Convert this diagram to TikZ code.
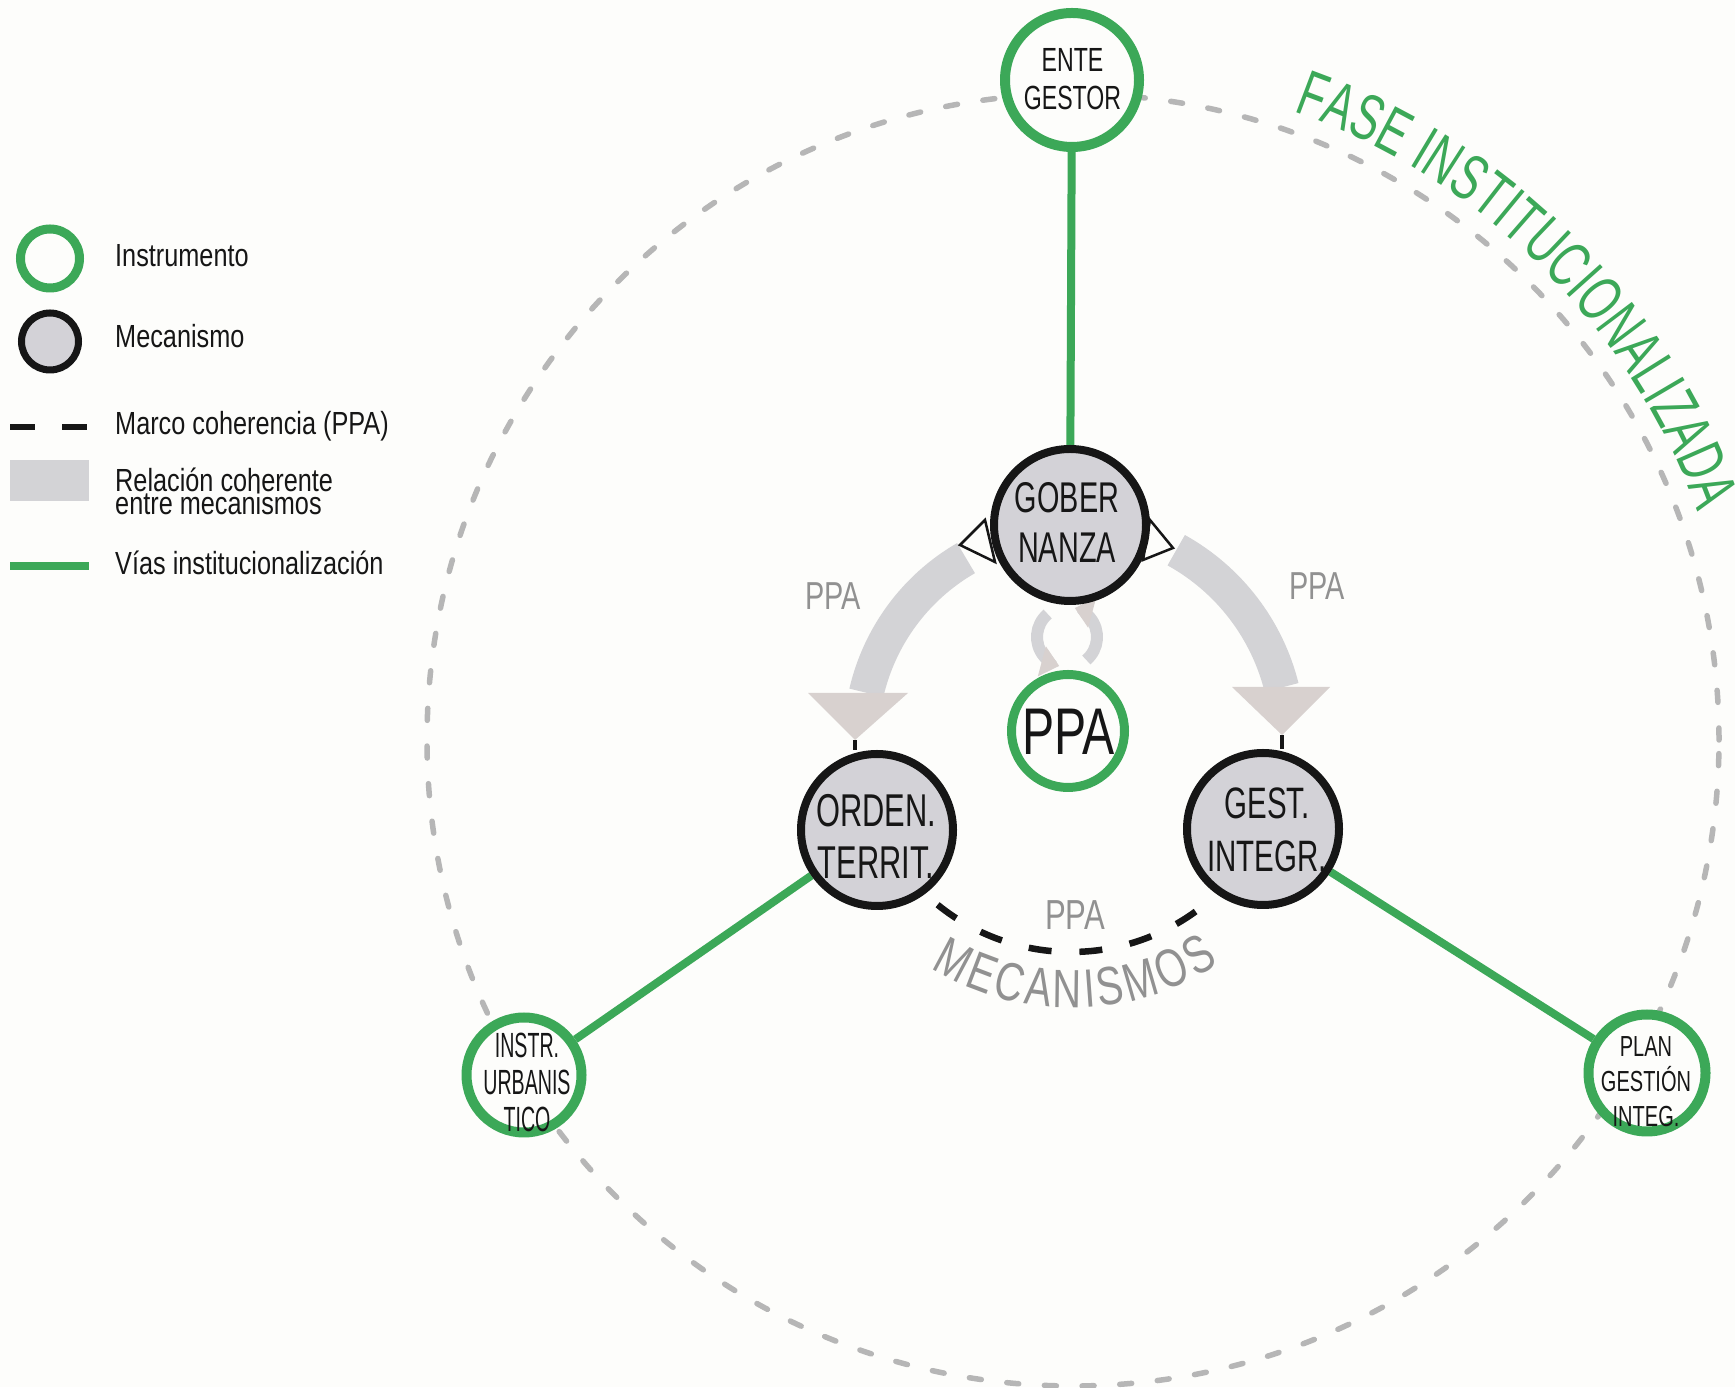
\documentclass[tikz,border=0pt]{standalone}
\usepackage{fontspec}
\setmainfont{Liberation Sans}
\newfontfamily\fLeg{Liberation Sans}[FakeStretch=0.79]
\newfontfamily\fEnte{Liberation Sans}[FakeStretch=0.69]
\newfontfamily\fMech{Liberation Sans}[FakeStretch=0.67]
\newfontfamily\fMec{Liberation Sans}[FakeStretch=0.74]
\newfontfamily\fInstr{Liberation Sans}[FakeStretch=0.56]
\newfontfamily\fPPA{Liberation Sans}[FakeStretch=0.73]
\newfontfamily\fLab{Liberation Sans}[FakeStretch=0.74]
\newfontfamily\fFase{Liberation Sans}[FakeStretch=0.66]
\newcommand\mecfont{\fMec\fontsize{54}{58}\selectfont}
\newcommand\fasefont{\fFase\fontsize{65}{70}\selectfont}
\usetikzlibrary{arrows.meta,decorations.text}
\pgfdeclarelayer{background}
\pgfsetlayers{background,main}
\definecolor{grn}{RGB}{60,168,88}
\definecolor{mechfill}{RGB}{211,210,215}
\definecolor{band}{RGB}{211,211,214}
\definecolor{headc}{RGB}{216,209,207}
\definecolor{dashgray}{RGB}{182,182,182}
\definecolor{labgray}{RGB}{145,145,145}
\definecolor{bgc}{RGB}{253,253,251}
\definecolor{ink}{RGB}{22,22,22}
\tikzset{
  instr/.style={circle, draw=grn, line width=10pt, fill=bgc, inner sep=0pt},
  mech/.style={circle, draw=ink, line width=8pt, fill=mechfill, inner sep=0pt, minimum size=152pt},
  ctext/.style={align=center, text=ink, inner sep=0pt},
  via/.style={draw=grn, line width=8pt},
  legtext/.style={anchor=base west, inner sep=0pt, font=\fLeg\fontsize{32}{36}\selectfont, text=ink},
  graylab/.style={anchor=base, inner sep=0pt, text=labgray},
  bandline/.style={draw=band, line width=35pt},
  cycarrow/.style={draw=band, line width=12pt, -{Triangle[length=18pt,width=30pt,color=headc]}},
  headtri/.style={fill=headc},
  opentri/.style={fill=bgc, draw=ink, line width=2.5pt, line join=miter},
  stem/.style={draw=ink, line width=4pt}
}
\begin{document}
\begin{tikzpicture}[x=1pt,y=1pt]
\useasboundingbox (0,0) rectangle (1735,1387);
\coordinate (C) at (1071,647);
\coordinate (BC) at (1073,647);
\coordinate (cyc) at (1067,750);
% main nodes
\node[instr, minimum size=134pt] (ente) at (1072,1307) {};
\node[mech] (gob) at (1070,862) {};
\node[mech] (ord) at (877,557) {};
\node[mech] (gest) at (1263,558) {};
\node[instr, minimum size=113pt, line width=9pt] (ppa) at (1068,656) {};
\node[instr, minimum size=115pt] (instr) at (524,312) {};
\node[instr, minimum size=117pt] (plan) at (1647,314) {};
% node texts
\node[ctext, font=\fEnte\fontsize{33.5}{38}\selectfont] (enteT) at (1072.5,1308) {ENTE\\GESTOR};
\node[ctext, font=\fMech\fontsize{43}{50}\selectfont] (gobT) at (1067,865) {GOBER\\NANZA};
\node[ctext, font=\fMech\fontsize{46}{52}\selectfont] (ordT) at (876,550.5) {ORDEN.\\TERRIT.};
\node[ctext, font=\fMech\fontsize{44}{53}\selectfont] (gestT) at (1267,557.5) {GEST.\\INTEGR.};
\node[ctext, font=\fPPA\fontsize{66}{70}\selectfont] (ppaT) at (1068.5,655.5) {PPA};
\node[ctext, font=\fInstr\fontsize{35}{37}\selectfont] (instrT) at (527,304.5) {INSTR.\\URBANIS\\TICO};
\node[ctext, font=\fEnte\fontsize{29}{35}\selectfont] (planT) at (1646,305) {PLAN\\GESTIÓN\\INTEG.};
% gray labels
\node[graylab, font=\fLab\fontsize{39}{42}\selectfont] (ppaL) at (833,777) {PPA};
\node[graylab, font=\fLab\fontsize{39}{42}\selectfont] (ppaR) at (1317,787) {PPA};
\node[graylab, font=\fLab\fontsize{42}{44}\selectfont] (ppaB) at (1075,457) {PPA};
% curved texts
\path[decorate, decoration={text along path, text={|\mecfont|MECANISMOS}, text align={fit to path}, text color=labgray}]
  ([shift={(238.5:268)}]C) arc[start angle=238.5, end angle=303.5, radius=268];
\path[decorate, decoration={text along path, text={|\fasefont|FASE INSTITUCIONALIZADA}, text align={fit to path}, text color=grn}]
  ([shift={(70.5:667)}]C) arc[start angle=70.5, end angle=20, radius=667];
% legend
\node[instr, minimum size=59pt, line width=9pt] (legI) at (50,1128.5) {};
\node[mech, minimum size=57pt, line width=7pt] (legM) at (50,1045.5) {};
\node[fill=band, minimum width=79pt, minimum height=41pt, inner sep=0pt, anchor=south west] (legR) at (10,886) {};
\coordinate (legD1) at (10,960);
\coordinate (legD2) at (87,960);
\coordinate (legV1) at (10,821);
\coordinate (legV2) at (89,821);
\draw[ink, line width=6pt, dash pattern=on 25pt off 27pt] (legD1) -- (legD2);
\draw[via] (legV1) -- (legV2);
\node[legtext] (legT1) at (115,1120) {Instrumento};
\node[legtext] (legT2) at (115,1039) {Mecanismo};
\node[legtext] (legT3) at (115,952) {Marco coherencia (PPA)};
\node[legtext] (legT4) at (115,895) {Relación coherente};
\node[legtext] (legT5) at (115,872) {entre mecanismos};
\node[legtext] (legT6) at (115,812) {Vías institucionalización};
% background layer
\begin{pgfonlayer}{background}
\fill[bgc] (0,0) rectangle (1735,1387);
\draw[dashgray, line width=5.5pt, line cap=round, dash pattern=on 12pt off 25.7pt] (BC) circle[radius=646];
\draw[via] (ente) -- (gob);
\draw[via] (ord) -- (instr);
\draw[via] (gest) -- (plan);
% coherent relation bands
\draw[bandline] ([shift={(120:210)}]C) arc[start angle=120, end angle=167, radius=210];
\draw[bandline] ([shift={(61:217)}]C) arc[start angle=61, end angle=14, radius=217];
\coordinate (ltip) at (855,647);
\coordinate (rtip) at (1282,652);
\draw[stem] (ltip) -- (ltip |- ord.north);
\draw[stem] (rtip) -- (rtip |- gest.north);
\fill[headtri] (808,694) -- (908,694) -- (ltip) -- cycle;
\fill[headtri] (1232,700) -- (1330,700) -- (rtip) -- cycle;
% open triangles at governance
\filldraw[opentri] (960,842) -- (985,867) -- (995,825) -- cycle;
\filldraw[opentri] (1150,867) -- (1173,839) -- (1143,827) -- cycle;
% cyclic arrows
\draw[cycarrow] ([shift={(130:30)}]cyc) arc[start angle=130, end angle=255, radius=30];
\draw[cycarrow] ([shift={(310:30)}]cyc) arc[start angle=310, end angle=435, radius=30];
% coherence frame
\draw[ink, line width=6.5pt, dash pattern=on 23pt off 27.9pt] ([shift={(231:212)}]C) arc[start angle=231, end angle=306, radius=212];
\end{pgfonlayer}
\end{tikzpicture}
\end{document}
